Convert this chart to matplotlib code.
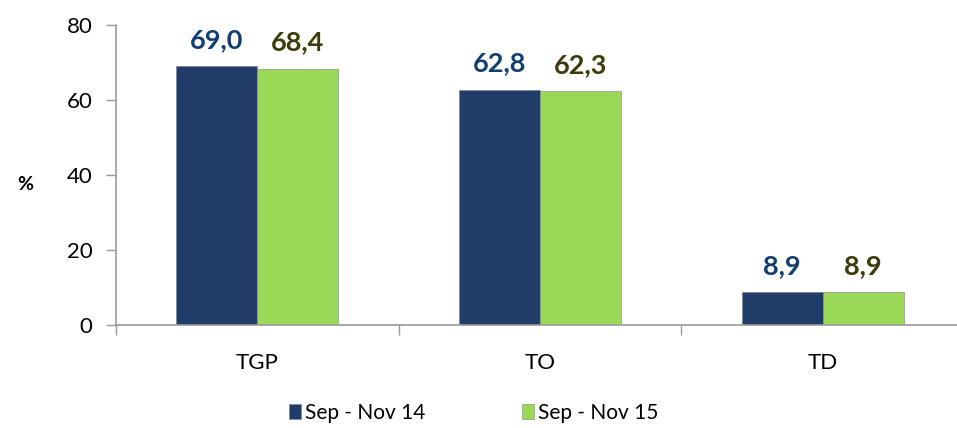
import numpy as np
import matplotlib
matplotlib.use("Agg")
import matplotlib.pyplot as plt
from matplotlib.patches import Patch

# data
categories = ["TGP", "TO", "TD"]
series_names = ["Sep - Nov 14", "Sep - Nov 15"]
values_2014 = [69.0, 62.8, 8.9]
values_2015 = [68.4, 62.3, 8.9]

bar_colors = ["#1F3D68", "#9AD957"]
label_colors = ["#123F70", "#3B3B0B"]
axis_gray = "#9A9A9A"

plt.rcParams['font.family'] = ['Lato', 'DejaVu Sans']

fig = plt.figure(figsize=(9.57, 4.28), dpi=100)
ax = fig.add_axes([116 / 957, 103 / 428, 848 / 957, 300 / 428])

x = np.arange(len(categories))
w = 0.287

for i, vals in enumerate([values_2014, values_2015]):
    offs = (i - 0.5) * w
    ax.bar(x + offs, vals, width=w, color=bar_colors[i],
           edgecolor="#7F7F7F", linewidth=0.4, zorder=2)
    for xi, v in zip(x + offs, vals):
        ax.annotate(("%.1f" % v).replace(".", ","), (xi, v),
                    xytext=(0, 10), textcoords="offset points",
                    ha="center", va="bottom", fontsize=19.5, fontweight="bold",
                    color=label_colors[i])

ax.set_xlim(-0.5, 2.5)
ax.set_ylim(0, 80)
ax.set_yticks([0, 20, 40, 60, 80])
ax.tick_params(axis="y", length=7, width=1, color=axis_gray, labelsize=16, pad=10)

ax.set_xticks(x)
ax.set_xticklabels(categories)
ax.set_xticks([-0.5, 0.5, 1.5, 2.5], minor=True)
ax.tick_params(axis="x", which="major", length=0, labelsize=16, pad=20)
ax.tick_params(axis="x", which="minor", length=7, width=1, color=axis_gray)

for s in ["top", "right"]:
    ax.spines[s].set_visible(False)
for s in ["left", "bottom"]:
    ax.spines[s].set_color(axis_gray)
    ax.spines[s].set_linewidth(1.2)

fig.text(25 / 957, 1 - 185 / 428, "%", ha="center", va="center",
         fontsize=14, fontweight="bold")

handles = [Patch(facecolor=c, edgecolor="#7F7F7F", linewidth=0.4) for c in bar_colors]
fig.legend(handles, series_names, loc="center", bbox_to_anchor=(0.495, 1 - 413 / 428),
           ncol=2, frameon=False, fontsize=15, handlelength=0.6, handleheight=0.7,
           handletextpad=0.2, columnspacing=4.6)

fig.savefig("out.png", dpi=100)
